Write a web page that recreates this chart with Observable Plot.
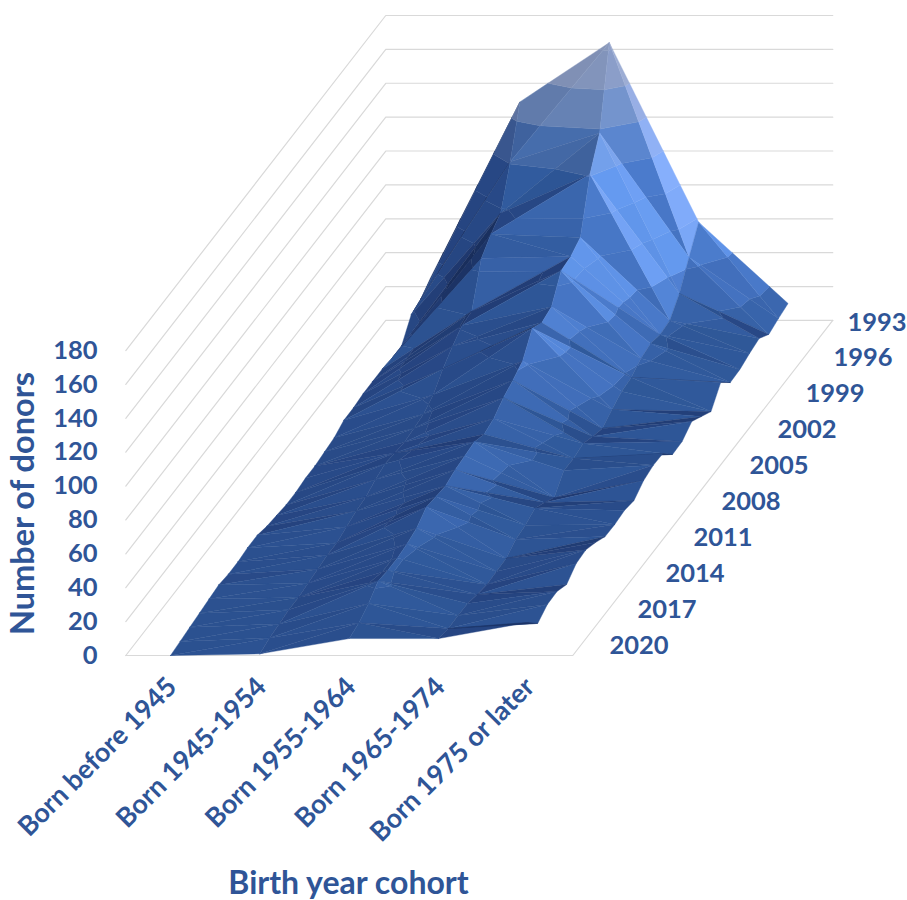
<!DOCTYPE html>
<html>
<head>
<meta charset="utf-8">
<script src="https://cdn.jsdelivr.net/npm/d3@7"></script>
<script src="https://cdn.jsdelivr.net/npm/@observablehq/plot@0.6"></script>
<style>
  html, body { margin: 0; padding: 0; background: #fff; }
</style>
</head>
<body>
<div id="chart"></div>
<script>
const cohorts = ["Born before 1945", "Born 1945-1954", "Born 1955-1964", "Born 1965-1974", "Born 1975 or later"];
// Survey years, nearest edge of the surface first
const years = [2020,2019,2018,2017,2016,2015,2014,2013,2012,2011,2010,2009,2008,2007,2006,2005,2004,2003,2002,2001,2000,1999,1998,1997,1996,1995,1994,1993];
const yearLabels = [2020,2017,2014,2011,2008,2005,2002,1999,1996,1993];
const donorTicks = [0,20,40,60,80,100,120,140,160,180];

// Donors per survey year, one list per cohort
const before1945 = [0,1,2,3,4,5,4,4,5,5,3,2,1,1,2,2,3,4,7,7,8,8,8,7,7,18,20,25];
const born1945 = [1,3,4,5,5,6,7,8,8,10,12,13,16,18,17,16,17,18,22,30,36,41,42,66,73,78,101,129];
const born1955 = [10,12,16,22,21,21,22,24,29,28,27,29,30,31,28,30,35,38,42,54,50,52,66,67,71,101,118,164];
const born1965 = [10,8.6,9,8.7,6.7,5.3,5.6,6,9.9,11,13.6,9.7,5.3,14,13.7,15.3,12,9.5,13.3,16.6,17.6,21.5,23,21,22,30.6,44.6,58];
const born1975 = [19.5,11.6,15.5,15.8,12.6,17.7,18.4,15.4,11.6,11.4,12.3,10.9,15.4,17,16.7,8.8,9.1,13.6,9.2,4.8,14.6,7.3,7.7,9.8,11.3,6.4,8.4,10];
const series = [before1945, born1945, born1955, born1965, born1975];

const W = 907, H = 900;
// Oblique view: moving one year back shifts a point right and up in scale units
const depthX = 0.1077, depthY = 7.326;
const px = (c, k) => c + k * depthX;
const py = (k, v) => v + k * depthY;
const lastK = years.length - 1;

const bandStep = 20;
const stops = [[0, "#15264f"], [0.3, "#25437f"], [0.5, "#2f5899"], [0.72, "#4675c4"], [0.88, "#659af0"], [1, "#8fb4ff"]];
const ramp = d3.scaleLinear().domain(stops.map(d => d[0])).range(stops.map(d => d[1])).clamp(true);
const bandHaze = d3.scaleLinear().domain([90, 110, 130, 150, 170]).range([0, 0.14, 0.42, 0.68, 0.74]).clamp(true);

// Facet normal, with the light at the right
function normal(a, b, d) {
  const P = p => [p.c / 5, p.v / 180 * 0.7, p.k / lastK];
  const [A, B, D] = [P(a), P(b), P(d)];
  const u = B.map((x, i) => x - A[i]), w = D.map((x, i) => x - A[i]);
  let n = [u[1]*w[2]-u[2]*w[1], u[2]*w[0]-u[0]*w[2], u[0]*w[1]-u[1]*w[0]];
  if (n[1] < 0) n = n.map(x => -x);
  const len = Math.hypot(...n);
  return n.map(x => x / len);
}

// Keep the part of a triangle that lies between two donor counts
function clipBand(tri, lo, hi) {
  const cut = (poly, test, level) => {
    const out = [];
    poly.forEach((p, i) => {
      const q = poly[(i + 1) % poly.length];
      const pIn = test(p.v), qIn = test(q.v);
      if (pIn) out.push(p);
      if (pIn !== qIn) {
        const t = (level - p.v) / (q.v - p.v);
        out.push({c: p.c + t * (q.c - p.c), k: p.k + t * (q.k - p.k), v: level});
      }
    });
    return out;
  };
  return cut(cut(tri, v => v >= lo, lo), v => v <= hi, hi);
}

const facets = [];
let id = 0;
function addTriangle(tri) {
  const n = normal(tri[0], tri[1], tri[2]);
  const facing = n[2] > 0 ? -0.42 * n[2] : -0.1 * n[2];
  for (let lo = 0; lo < 180; lo += bandStep) {
    const poly = clipBand(tri, lo, lo + bandStep);
    if (poly.length < 3) continue;
    const mid = lo + bandStep / 2;
    // Sunlit slopes only glow on the higher part of the surface
    const gain = Math.min(1, 0.32 + mid / 70);
    const s = 0.42 + 0.55 * n[0] * gain + facing + mid * 0.0009;
    const color = d3.interpolateRgb(ramp(s), "#a4a9c0")(bandHaze(mid));
    id++;
    for (const p of [...poly, poly[0]]) facets.push({id, color, x: px(p.c, p.k), y: py(p.k, p.v)});
  }
}
// Paint from the back row forward so nearer facets cover farther ones
for (let k = lastK - 1; k >= 0; k--) {
  for (let c = 0; c < cohorts.length - 1; c++) {
    const g = (cc, kk) => ({c: cc, k: kk, v: series[cc][kk]});
    const a = g(c, k), b = g(c + 1, k), e = g(c, k + 1), f = g(c + 1, k + 1);
    if (Math.abs(a.v - f.v) >= Math.abs(b.v - e.v)) {
      addTriangle([a, e, f]);
      addTriangle([a, f, b]);
    } else {
      addTriangle([a, e, b]);
      addTriangle([e, f, b]);
    }
  }
}

// Light grey wall and floor lines
const grid = [];
donorTicks.forEach(v => {
  grid.push({g: "t" + v, x: px(-0.5, 0), y: py(0, v)});
  grid.push({g: "t" + v, x: px(-0.5, lastK), y: py(lastK, v)});
  grid.push({g: "t" + v, x: px(4.5, lastK), y: py(lastK, v)});
});
grid.push({g: "floor", x: px(-0.5, 0), y: 0});
grid.push({g: "floor", x: px(4.5, 0), y: 0});
grid.push({g: "floor", x: px(4.5, lastK), y: py(lastK, 0)});

const ink = "#2F5597";
const font = "Lato, Carlito, 'Open Sans', sans-serif";
const xOf = p => (p - 170) / 89.4;
const yOf = p => (655 - p) / 1.694;
const textBase = {fill: ink, fontWeight: 700, fontFamily: font, stroke: "none"};

const chart = Plot.plot({
  width: W, height: H,
  margin: 0,
  x: {domain: [xOf(0), xOf(W)], range: [0, W], axis: null},
  y: {domain: [yOf(H), yOf(0)], range: [H, 0], axis: null},
  color: {type: "identity"},
  marks: [
    Plot.line(grid, {x: "x", y: "y", z: "g", stroke: "#d9d9d9", strokeWidth: 1.2}),
    Plot.line(facets, {x: "x", y: "y", z: "id", fill: "color", stroke: "color", strokeWidth: 0.4, curve: "linear"}),
    Plot.text(donorTicks, {...textBase, x: () => xOf(97), y: d => d, text: d => String(d), textAnchor: "end", fontSize: 25.5}),
    Plot.text(yearLabels, {...textBase,
      x: (d, i) => xOf(609 + Math.min(i * 28, 238)), y: (d, i) => yOf(645 - i * 35.9),
      text: d => String(d), textAnchor: "start", fontSize: 25.5}),
    Plot.text(cohorts, {...textBase,
      x: (d, i) => i + 0.02, y: () => yOf(682), text: d => d, rotate: -45, textAnchor: "end", fontSize: 26.8}),
    Plot.text(["Number of donors"], {...textBase, x: () => xOf(23), y: () => yOf(503), text: d => d, rotate: -90, fontSize: 32.5}),
    Plot.text(["Birth year cohort"], {...textBase, x: () => xOf(348), y: () => yOf(883), text: d => d, fontSize: 32})
  ]
});
document.getElementById("chart").appendChild(chart);
</script>
</body>
</html>
